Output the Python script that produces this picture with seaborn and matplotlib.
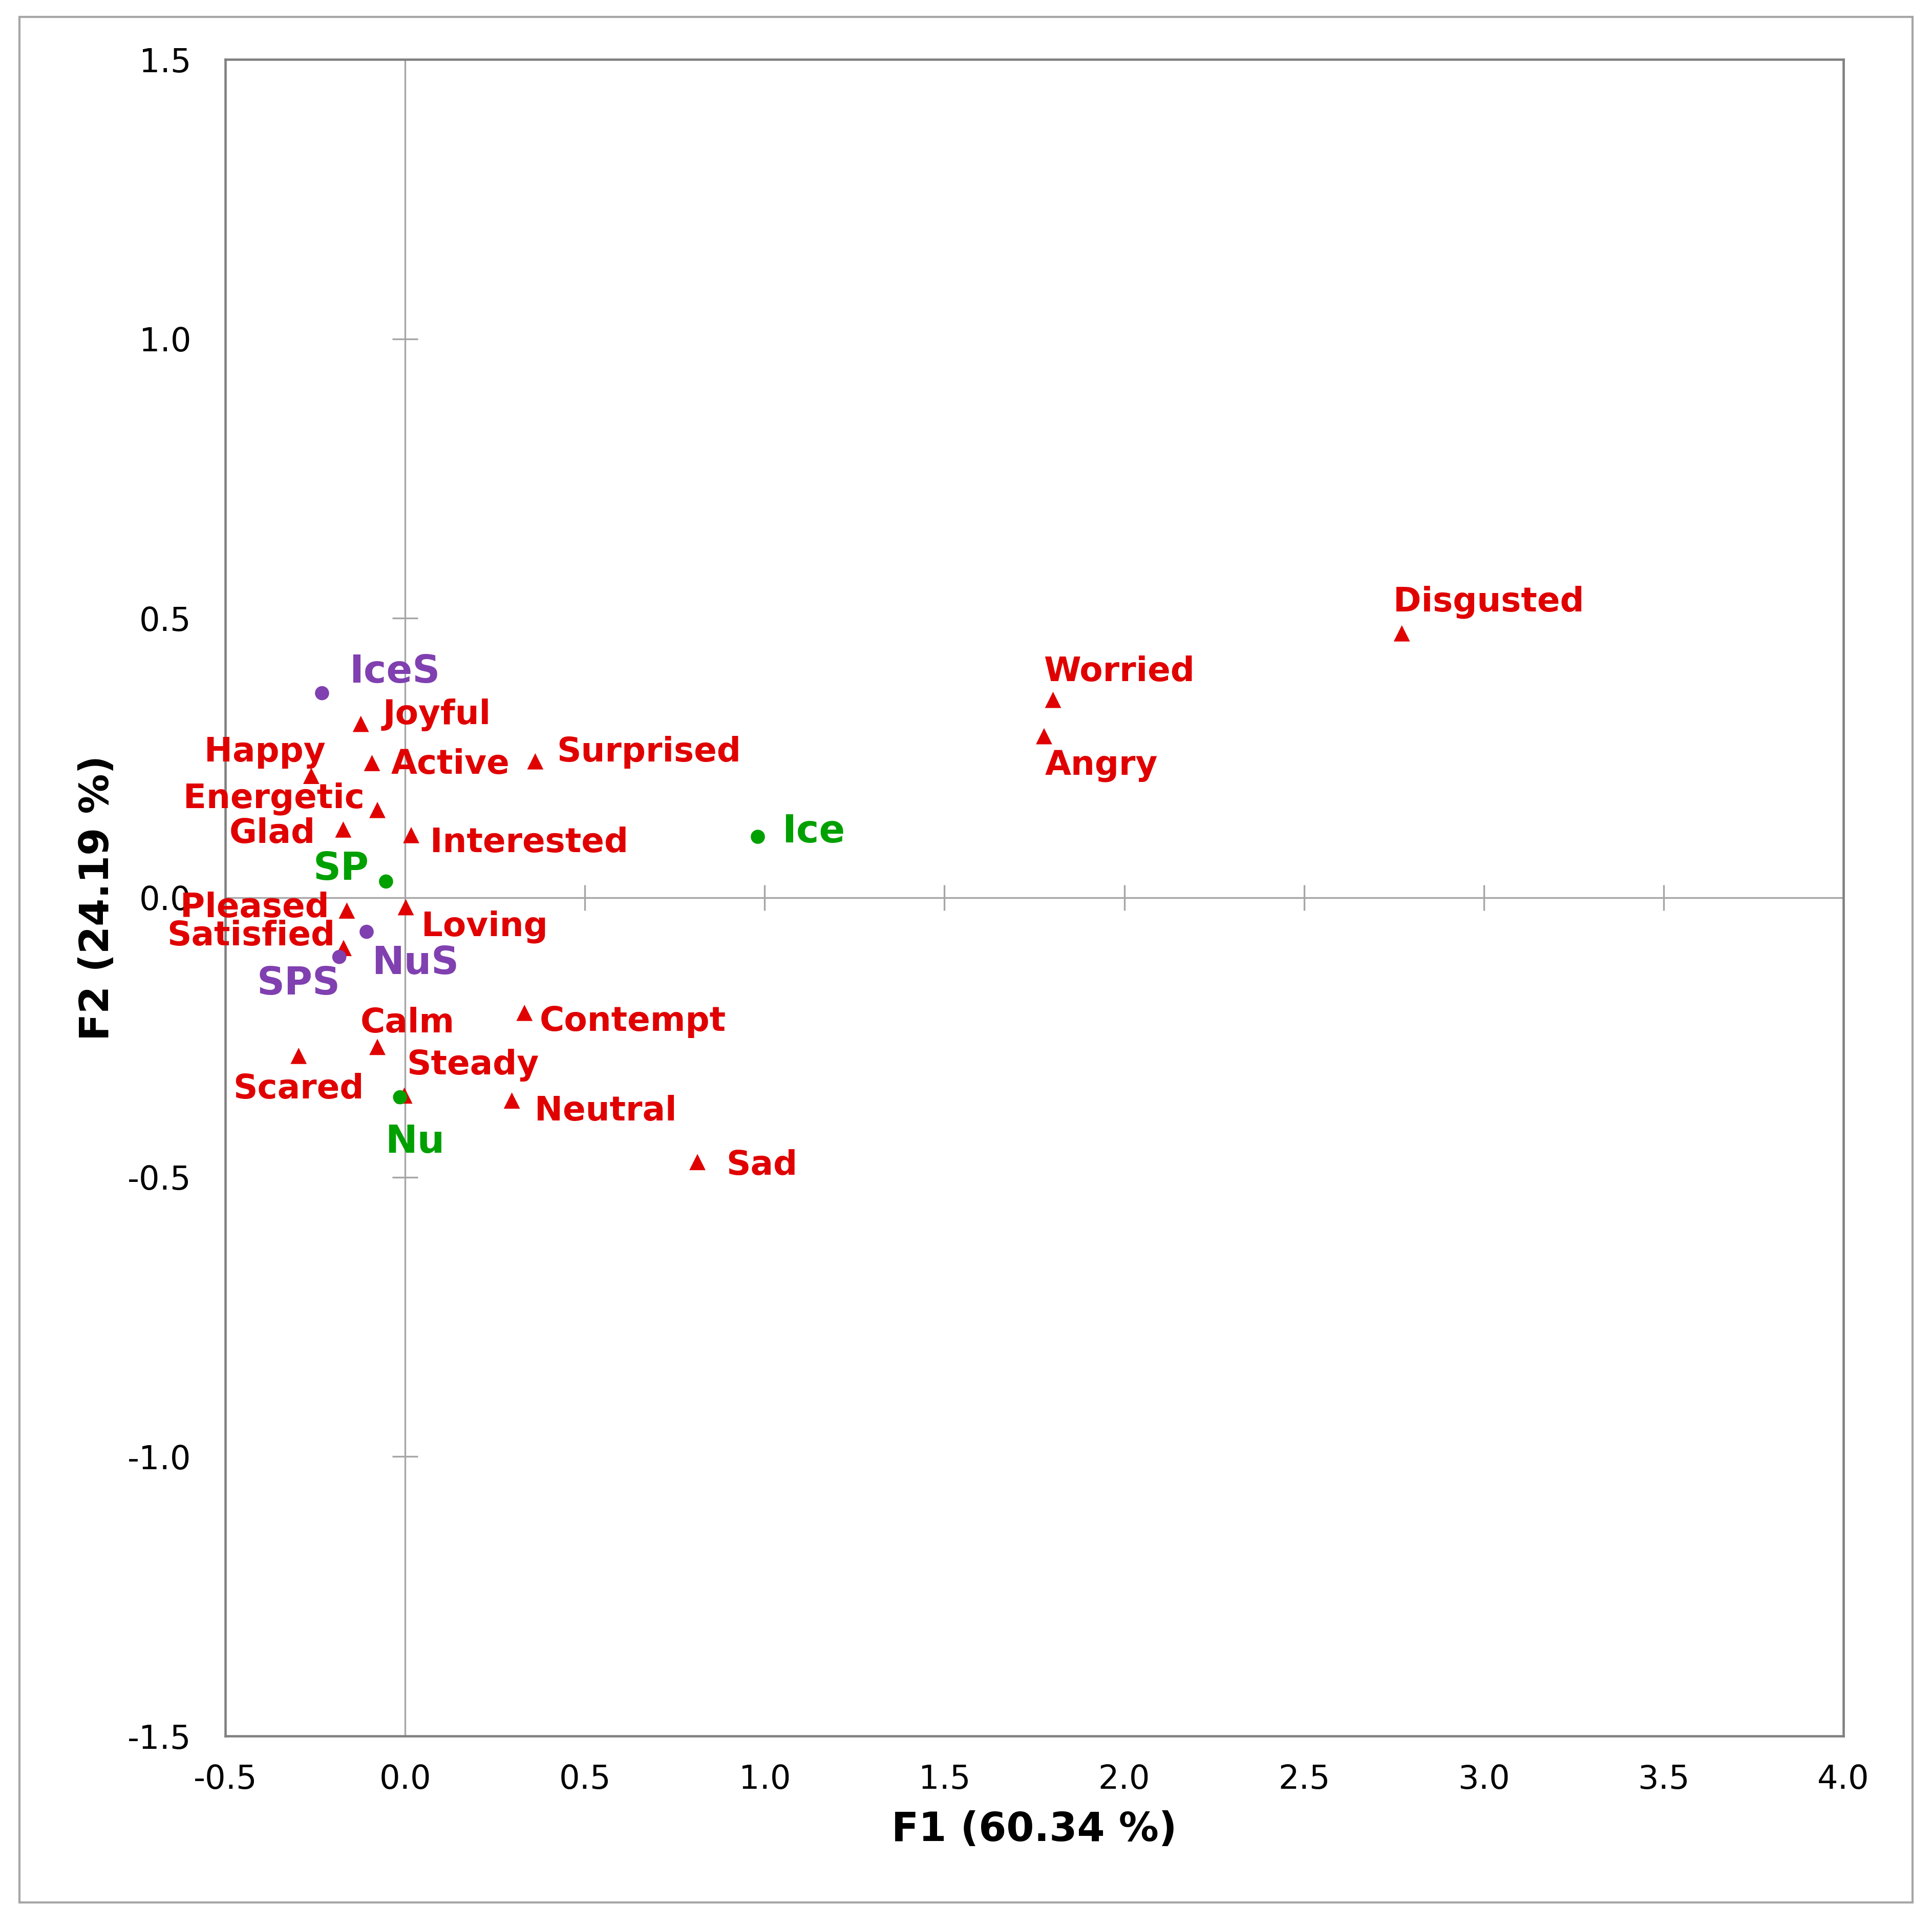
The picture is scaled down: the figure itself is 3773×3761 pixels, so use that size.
import numpy as np
import pandas as pd
import seaborn as sns
import matplotlib.pyplot as plt
from matplotlib.patches import Rectangle

# --- values ---
emotion_names = ['Disgusted', 'Worried', 'Angry', 'Surprised', 'Joyful', 'Active', 'Happy',
                 'Energetic', 'Glad', 'Interested', 'Pleased', 'Loving', 'Satisfied',
                 'Contempt', 'Calm', 'Scared', 'Steady', 'Neutral', 'Sad']
emotion_f1 = [2.772, 1.802, 1.777, 0.362, -0.123, -0.092, -0.261,
              -0.077, -0.172, 0.017, -0.162, 0.002, -0.171,
              0.332, -0.077, -0.296, -0.002, 0.297, 0.813]
emotion_f2 = [0.473, 0.354, 0.289, 0.244, 0.311, 0.241, 0.218,
              0.157, 0.122, 0.112, -0.023, -0.017, -0.090,
              -0.206, -0.267, -0.283, -0.354, -0.363, -0.473]

sample_names = ['Ice', 'SP', 'Nu']
sample_f1 = [0.981, -0.053, -0.014]
sample_f2 = [0.109, 0.029, -0.357]

served_names = ['IceS', 'NuS', 'SPS']
served_f1 = [-0.231, -0.107, -0.183]
served_f2 = [0.366, -0.061, -0.106]

x_ticks = [-0.5, 0.0, 0.5, 1.0, 1.5, 2.0, 2.5, 3.0, 3.5, 4.0]
y_ticks = [-1.5, -1.0, -0.5, 0.0, 0.5, 1.0, 1.5]
x_title = 'F1 (60.34 %)'
y_title = 'F2 (24.19 %)'

# label placement (offset in points, horizontal alignment)
label_offsets = {
    'Disgusted': (-4, 10.5, 'left'), 'Worried': (-4.4, 8.8, 'left'), 'Angry': (0.4, -18.2, 'left'),
    'Surprised': (10, 0, 'left'), 'Joyful': (10.3, 0, 'left'), 'Active': (8.8, -5, 'left'),
    'Happy': (6.7, 6.7, 'right'), 'Energetic': (-6, 1, 'right'), 'Glad': (-13, -6.3, 'right'),
    'Interested': (8.8, -7.9, 'left'), 'Pleased': (-8.4, -3, 'right'), 'Loving': (7.2, -13.4, 'left'),
    'Satisfied': (-4, 1.3, 'right'), 'Contempt': (7, -8.4, 'left'), 'Calm': (-8, 6.8, 'left'),
    'Scared': (0, -19.9, 'center'), 'Steady': (1, 10, 'left'), 'Neutral': (10.7, -9.3, 'left'),
    'Sad': (13.5, -6, 'left'), 'Ice': (11.3, -2.6, 'left'), 'SP': (-8, 0.8, 'right'),
    'Nu': (-7, -26, 'left'), 'IceS': (12.7, 5, 'left'), 'NuS': (2.4, -19.9, 'left'),
    'SPS': (0.6, -17.7, 'right'),
}

colors = {'emotion': '#E00000', 'sample': '#00A000', 'served': '#8040B0'}
markers = {'emotion': '^', 'sample': 'o', 'served': 'o'}
sizes = {'emotion': 58, 'sample': 44, 'served': 44}
label_size = {'emotion': 15.8, 'sample': 18, 'served': 18}

df = pd.concat([
    pd.DataFrame({'name': emotion_names, 'F1': emotion_f1, 'F2': emotion_f2, 'group': 'emotion'}),
    pd.DataFrame({'name': sample_names, 'F1': sample_f1, 'F2': sample_f2, 'group': 'sample'}),
    pd.DataFrame({'name': served_names, 'F1': served_f1, 'F2': served_f2, 'group': 'served'}),
], ignore_index=True)

sns.set_style('white')
plt.rcParams['font.family'] = ['DejaVu Sans']
plt.rcParams['axes.unicode_minus'] = False

W, H = 3773, 3761
fig = plt.figure(figsize=(W / 300, H / 300), dpi=300)
ax = fig.add_axes([440 / W, 1 - 3390 / H, (3600 - 440) / W, (3390 - 116) / H])

# outer frame around the whole figure
fig.patches.append(Rectangle((38 / W, 1 - 3715 / H), (3735 - 38) / W, (3715 - 33) / H,
                             transform=fig.transFigure, fill=False,
                             edgecolor='#a6a6a6', linewidth=1.0))

# zero lines with their own crossing ticks
ax.axhline(0, color='#a6a6a6', linewidth=0.8, zorder=1)
ax.axvline(0, color='#a6a6a6', linewidth=0.8, zorder=1)
xt_inner = [t for t in x_ticks if t not in (0.0, x_ticks[0], x_ticks[-1])]
yt_inner = [t for t in y_ticks if t not in (0.0, y_ticks[0], y_ticks[-1])]
ax.plot(xt_inner, np.zeros(len(xt_inner)), linestyle='none', marker='|',
        markersize=12, markeredgewidth=0.8, color='#a6a6a6', zorder=1)
ax.plot(np.zeros(len(yt_inner)), yt_inner, linestyle='none', marker='_',
        markersize=12, markeredgewidth=0.8, color='#a6a6a6', zorder=1)

sns.scatterplot(data=df, x='F1', y='F2', hue='group', style='group', size='group',
                palette=colors, markers=markers, sizes=sizes,
                edgecolor='none', linewidth=0, legend=False, ax=ax, zorder=3)

for _, row in df.iterrows():
    dx, dy, ha = label_offsets[row['name']]
    ax.annotate(row['name'], (row['F1'], row['F2']), xytext=(dx, dy),
                textcoords='offset points', ha=ha, va='baseline',
                fontsize=label_size[row['group']], fontweight='bold',
                color=colors[row['group']], zorder=4)

ax.set_xlim(x_ticks[0], x_ticks[-1])
ax.set_ylim(y_ticks[0], y_ticks[-1])
ax.set_xticks(x_ticks)
ax.set_yticks(y_ticks)
ax.set_xticklabels([f'{t:.1f}' for t in x_ticks])
ax.set_yticklabels([f'{t:.1f}' for t in y_ticks])
ax.tick_params(axis='x', length=0, pad=13, labelsize=15.3, colors='black')
ax.tick_params(axis='y', length=0, pad=16, labelsize=15.3, colors='black')

ax.set_xlabel(x_title, fontsize=18.7, fontweight='bold', labelpad=7, color='black')
ax.set_ylabel(y_title, fontsize=18.7, fontweight='bold', labelpad=5, color='black')

for side in ['top', 'bottom', 'left', 'right']:
    ax.spines[side].set_visible(True)
    ax.spines[side].set_color('#808080')
    ax.spines[side].set_linewidth(1.1)

fig.savefig('out.png', dpi=300, facecolor='white')
